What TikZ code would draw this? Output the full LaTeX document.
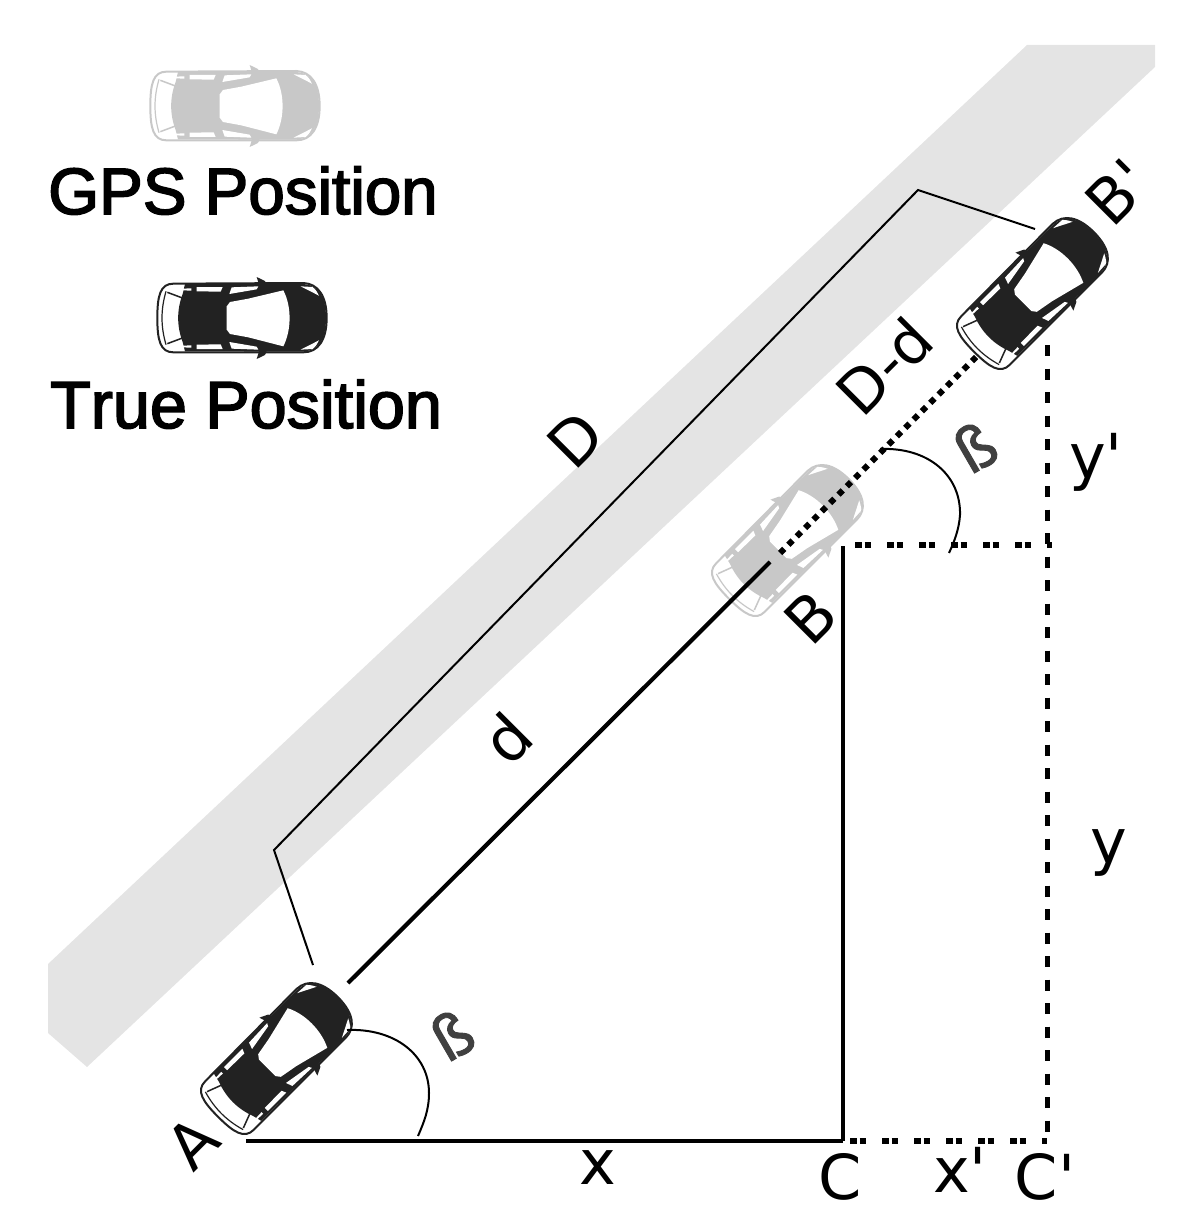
\documentclass[tikz,border=0pt]{standalone}
\usepackage{fontspec}
\newfontfamily\legendfont[FakeBold=2.5]{Liberation Sans}
\newfontfamily\legendfontb[FakeBold=2.5,Kerning=Off]{Liberation Sans}
\newfontfamily\labelfont{DejaVu Sans}
\newfontfamily\betafont[FakeBold=1.5]{DejaVu Sans}
\definecolor{carblack}{HTML}{222222}
\definecolor{cargray}{HTML}{C8C8C8}
\definecolor{roadgray}{HTML}{E4E4E4}
\tikzset{
  x=1pt,y=-1pt,
  pics/car/.style={code={
    \begin{scope}[shift={(-336,-805)}]
    \path[fill=white,draw=#1,line width=2pt,line join=round]
      (82,805) .. controls (82,740) and (90,702) .. (130,702) -- (520,700)
      .. controls (565,702) and (590,740) .. (590,805)
      .. controls (590,870) and (565,908) .. (520,908) -- (130,908)
      .. controls (90,908) and (82,870) .. (82,805) -- cycle;
    \path[fill=#1]
      (158,733) .. controls (140,780) and (140,830) .. (158,877)
      -- (165,905) -- (520,906) .. controls (565,902) and (588,870) .. (588,805)
      .. controls (588,740) and (565,706) .. (520,703) -- (165,703) -- cycle;
    \draw[#1,line width=1.2pt] (108,725) .. controls (92,780) and (92,830) .. (108,885);
    \draw[#1,line width=1.5pt] (112,728) -- (160,746);
    \draw[#1,line width=1.5pt] (112,882) -- (160,864);
    \path[fill=#1] (380,682) -- (405,694) -- (410,705) -- (388,708) -- cycle;
    \path[fill=#1] (380,928) -- (405,916) -- (410,905) -- (388,902) -- cycle;
    \path[fill=white]
      (290,770) -- (300,757) -- (355,747) -- (460,722)
      .. controls (485,770) and (485,840) .. (460,890)
      -- (355,863) -- (300,853) -- (290,840) -- cycle;
    \foreach \s in {1,-1}{
      \begin{scope}[shift={(0,805)},yscale=\s,shift={(0,-805)}]
      \path[fill=white] (155,717) -- (184,716) -- (184,723) -- (158,722) -- cycle;
      \path[fill=white] (200,712) -- (278,712) -- (272,726) -- (200,725) -- cycle;
      \path[fill=white] (305,713) -- (385,710) -- (380,719) -- (298,733) -- cycle;
      \path[fill=white] (512,710) -- (548,712) .. controls (558,720) and (563,730) .. (567,738) -- cycle;
      \end{scope}
    }
    \end{scope}
  }},
  carpic/.style={rotate=45,scale=1/3},
  carflat/.style={scale=1/3},
  legendtext/.style={font=\legendfont\fontsize{65.5}{66}\selectfont,inner sep=0pt,anchor=base west},
  lab/.style={font=\labelfont\fontsize{62}{62}\selectfont,inner sep=0pt,text=black},
  labr/.style={lab,rotate=45},
  beta/.style={font=\betafont\fontsize{60}{60}\selectfont,inner sep=0pt,text=black!75,rotate=30},
  thinline/.style={line width=2pt,line join=miter},
  solidline/.style={line width=4.2pt},
  dottedline/.style={line width=6pt,dash pattern=on 6pt off 5.8pt},
  doubledash/.style={line width=6pt,dash pattern=on 6.5pt off 3pt on 6.5pt off 16pt},
  vdash/.style={line width=5pt,dash pattern=on 11pt off 12.5pt},
}
\begin{document}
\begin{tikzpicture}
\useasboundingbox (0,0) rectangle (1184,1230);
\path[fill=roadgray] (48,964) -- (48,1033) -- (87,1067) -- (1155,67) -- (1155,45) -- (1027,45) -- cycle;

\coordinate (dA) at (313,965);
\coordinate (dK1) at (274,850);
\coordinate (dK2) at (918,190);
\coordinate (dB) at (1035,229);
\coordinate (lineA) at (348,983);
\coordinate (lineB) at (770,562);
\coordinate (dotA) at (780,553);
\coordinate (dotB) at (976,357);
\coordinate (nA) at (246,1141);
\coordinate (nC) at (843,1141);
\coordinate (nBt) at (843,546);
\coordinate (nCp) at (1047,1141);
\coordinate (nH) at (1052,545);
\coordinate (nHs) at (855,545);
\coordinate (nCs) at (850,1141);
\coordinate (nVt) at (1047,345);

\pic at (235,106) [carflat] {car=cargray};
\pic at (242,318) [carflat] {car=carblack};
\pic at (278,1057) [carpic] {car=carblack};
\pic at (789,539) [carpic] {car=cargray};
\pic at (1034,292) [carpic] {car=carblack};

\node[legendtext] (gps) at (48,214) {GPS Position};
\node[legendtext,font=\legendfontb\fontsize{66.5}{66}\selectfont] (true) at (50,428) {True Position};

\draw[thinline] (dA) -- (dK1) -- (dK2) -- (dB);
\draw[solidline] (lineA) -- (lineB);
\draw[dottedline] (dotA) -- (dotB);
\draw[solidline] (nA) -- (nC);
\draw[solidline] (nBt) -- (nC);
\draw[doubledash] (nHs) -- (nH);
\draw[doubledash] (nCs) -- (nCp);
\draw[vdash] (nVt) -- (nCp);

\draw[thinline] (347,1030) .. controls (395,1028) and (429,1055) .. (429,1093) .. controls (429,1110) and (424,1122) .. (418,1136);
\draw[thinline] (880,449) .. controls (928,447) and (961,475) .. (960,515) .. controls (959,530) and (954,542) .. (949,553);

\node[labr] (A) at (193,1143) {A};
\node[labr] (B) at (811,617) {B};
\node[labr] (Bp) at (1118,192) {B'};
\node[labr] (D) at (575,440) {D};
\node[labr] (d) at (507,738) {d};
\node[labr,font=\labelfont\fontsize{60}{60}\selectfont] (Dd) at (884,366) {D-d};
\node[lab] (x) at (598,1168) {x};
\node[lab] (C) at (840,1177) {C};
\node[lab] (xp) at (960,1170) {x'};
\node[lab] (Cp) at (1045,1177) {C'};
\node[lab] (yp) at (1096,462) {y'};
\node[lab] (y) at (1109,853) {y};
\node[beta] (b1) at (452,1035) {ß};
\node[beta] (b2) at (975,447) {ß};
\end{tikzpicture}
\end{document}
